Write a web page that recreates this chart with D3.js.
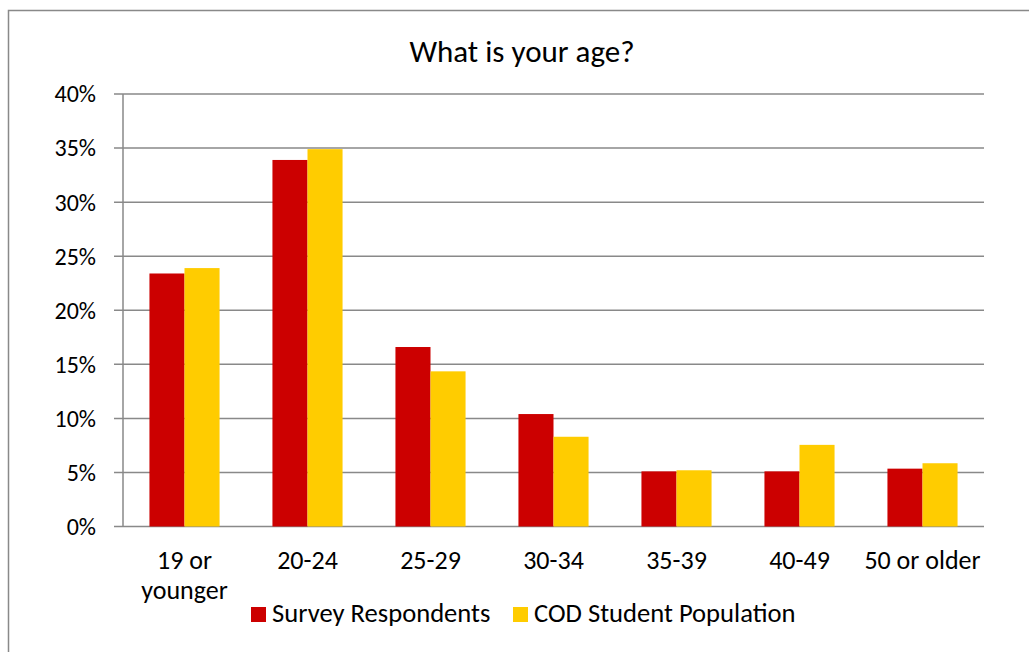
<!DOCTYPE html>
<html>
<head>
<meta charset="utf-8">
<script src="https://cdn.jsdelivr.net/npm/d3@7"></script>
<style>
  html, body { margin: 0; padding: 0; background: #fff; }
  svg { display: block; font-family: Carlito, Calibri, Lato, "Open Sans", sans-serif; }
</style>
</head>
<body>
<svg id="chart" width="1029" height="652"></svg>
<script>
const categories = ["19 or younger", "20-24", "25-29", "30-34", "35-39", "40-49", "50 or older"];
const categoryLines = [["19 or", "younger"], ["20-24"], ["25-29"], ["30-34"], ["35-39"], ["40-49"], ["50 or older"]];
const seriesNames = ["Survey Respondents", "COD Student Population"];
const surveyRespondents = [23.4, 33.9, 16.6, 10.4, 5.1, 5.1, 5.35];
const codStudentPopulation = [23.9, 34.9, 14.35, 8.3, 5.2, 7.55, 5.85];
const yTicks = [0, 5, 10, 15, 20, 25, 30, 35, 40];
const colors = ["#CC0000", "#FFCC00"];
const title = "What is your age?";

const svg = d3.select("#chart");
const margin = { left: 123, right: 1029 - 984, top: 94, bottom: 652 - 526.5 };
const W = 1029, H = 652;

// outer border
svg.append("rect").attr("x", 8.5).attr("y", 10.5).attr("width", 1040).attr("height", 700)
  .attr("fill", "none").attr("stroke", "#898989").attr("stroke-width", 1.5);

const x = d3.scaleBand().domain(categories).range([margin.left, W - margin.right])
  .paddingInner(0.43).paddingOuter(0.215);
const x1 = d3.scaleBand().domain(seriesNames).range([0, x.bandwidth()]);
const y = d3.scaleLinear().domain([0, 40]).range([H - margin.bottom, margin.top]);

// gridlines
svg.append("g").selectAll("line").data(yTicks).join("line")
  .attr("x1", margin.left - 9).attr("x2", W - margin.right)
  .attr("y1", d => y(d)).attr("y2", d => y(d))
  .attr("stroke", "#898989").attr("stroke-width", 1.5);

// y-axis line
svg.append("line").attr("x1", margin.left).attr("x2", margin.left)
  .attr("y1", y(40)).attr("y2", y(0)).attr("stroke", "#898989").attr("stroke-width", 1.5);

// y tick labels
svg.append("g").selectAll("text").data(yTicks).join("text")
  .attr("x", 96).attr("y", d => y(d)).attr("dy", "0.35em")
  .attr("text-anchor", "end").attr("font-size", 24).attr("fill", "#000")
  .text(d => d + "%");

// bars
const series = [surveyRespondents, codStudentPopulation];
const groups = svg.append("g").selectAll("g").data(categories).join("g")
  .attr("transform", d => `translate(${x(d)},0)`);
groups.selectAll("rect").data((d, i) => seriesNames.map((s, j) => ({ s, v: series[j][i], j })))
  .join("rect")
  .attr("x", d => x1(d.s)).attr("width", x1.bandwidth())
  .attr("y", d => y(d.v)).attr("height", d => y(0) - y(d.v))
  .attr("fill", d => colors[d.j]);

// x labels
const xl = svg.append("g").selectAll("text").data(categories).join("text")
  .attr("x", d => x(d) + x.bandwidth() / 2).attr("y", 569)
  .attr("text-anchor", "middle").attr("font-size", 26).attr("fill", "#000");
xl.each(function(d, i) {
  d3.select(this).selectAll("tspan").data(categoryLines[i]).join("tspan")
    .attr("x", x(d) + x.bandwidth() / 2).attr("dy", (t, k) => k === 0 ? 0 : 30)
    .text(t => t);
});

// title
svg.append("text").attr("x", 522).attr("y", 62).attr("text-anchor", "middle")
  .attr("font-size", 31).attr("fill", "#000").text(title);

// legend
const legendX = [251, 513];
const lg = svg.append("g").selectAll("g").data(seriesNames).join("g")
  .attr("transform", (d, i) => `translate(${legendX[i]},607)`);
lg.append("rect").attr("width", 15).attr("height", 15).attr("fill", (d, i) => colors[i]);
lg.append("text").attr("x", 21).attr("y", 15)
  .attr("font-size", 26.6).attr("fill", "#000").text(d => d);
</script>
</body>
</html>
